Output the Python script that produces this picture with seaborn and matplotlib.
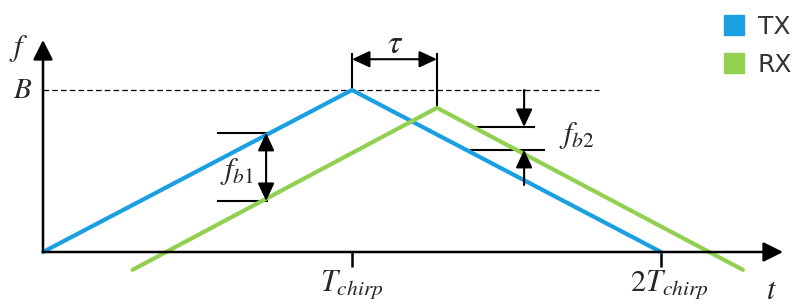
import numpy as np
import pandas as pd
import matplotlib
matplotlib.use('Agg')
import matplotlib.pyplot as plt
import seaborn as sb
from matplotlib.lines import Line2D

# chirp corner points (time in T_chirp units, frequency in B units)
t_tx = [0.0, 1.0, 2.0]
f_tx = [0.0, 1.0, 0.0]
t_rx = [0.29, 1.275, 2.265]
f_rx = [-0.11, 0.89, -0.11]
signals = ['TX', 'RX']
colors = ['#1a9fe3', '#92d050']

# beat frequency markers
fb1_x = 0.722
fb1_levels = [0.735, 0.315]
fb2_x = 1.557
fb2_levels = [0.772, 0.63]

sb.set_style('white')
plt.rcParams['mathtext.fontset'] = 'stix'
plt.rcParams['font.family'] = ['DejaVu Sans']

df = pd.DataFrame({'t': t_tx + t_rx, 'f': f_tx + f_rx,
                   'signal': [signals[0]] * len(t_tx) + [signals[1]] * len(t_rx)})

fig = plt.figure(figsize=(7.95, 3.06), dpi=100)
ax = fig.add_axes([0, 0, 1, 1])
ax.set_xlim(-43 / 309, 752 / 309)
ax.set_ylim(-54 / 162, 252 / 162)
ax.axis('off')

sb.lineplot(data=df, x='t', y='f', hue='signal', palette=dict(zip(signals, colors)),
            sort=False, lw=3, legend=False, ax=ax, zorder=3)

# axes with arrows
ax.annotate('', xy=(2.395, 0), xytext=(0, 0),
            arrowprops=dict(arrowstyle='-|>,head_length=0.6,head_width=0.3', lw=1.8,
                            color='black', shrinkA=0, shrinkB=0, mutation_scale=20))
ax.annotate('', xy=(0, 1.309), xytext=(0, 0),
            arrowprops=dict(arrowstyle='-|>,head_length=0.6,head_width=0.3', lw=1.8,
                            color='black', shrinkA=0, shrinkB=0, mutation_scale=20))
ax.vlines([1, 2], -0.09, 0, color='black', lw=1.8)

# B dashed level
ax.hlines(max(f_tx), 0, 1.80, color='black', lw=0.9, linestyles=(0, (4.5, 2.5)))

# tau
ax.vlines(t_tx[1], f_tx[1], 1.228, color='black', lw=1.5)
ax.vlines(t_rx[1], f_rx[1], 1.228, color='black', lw=1.5)
dbl = dict(arrowstyle='<|-|>,head_length=0.6,head_width=0.28', lw=1.5, color='black',
           shrinkA=0, shrinkB=0, mutation_scale=18)
ax.annotate('', xy=(t_tx[1], 1.19), xytext=(t_rx[1], 1.19), arrowprops=dbl)

# fb1
ax.hlines(fb1_levels, 0.563, 0.728, color='black', lw=1.5)
ax.annotate('', xy=(fb1_x, fb1_levels[0]), xytext=(fb1_x, fb1_levels[1]), arrowprops=dbl)

# fb2
sgl = dict(arrowstyle='-|>,head_length=0.6,head_width=0.28', lw=1.5, color='black',
           shrinkA=0, shrinkB=0, mutation_scale=18)
ax.hlines(fb2_levels[0], 1.382, 1.592, color='black', lw=1.5)
ax.hlines(fb2_levels[1], 1.382, 1.625, color='black', lw=1.5)
ax.annotate('', xy=(fb2_x, fb2_levels[0]), xytext=(fb2_x, 1.0), arrowprops=sgl)
ax.annotate('', xy=(fb2_x, fb2_levels[1]), xytext=(fb2_x, 0.414), arrowprops=sgl)

# labels
fs = 22
ax.text(-0.078, 1.259, r'$f$', fontsize=fs, ha='center', va='center')
ax.text(-0.065, 1.0, r'$B$', fontsize=fs - 1, ha='center', va='center')
ax.text(1.0, -0.241, r'$T_{chirp}$', fontsize=fs, ha='center', va='baseline')
ax.text(2.026, -0.241, r'$2T_{chirp}$', fontsize=fs, ha='center', va='baseline')
ax.text(2.359, -0.235, r'$t$', fontsize=fs, ha='center', va='center')
ax.text(1.139, 1.29, r'$\tau$', fontsize=24, ha='center', va='center')
ax.text(0.627, 0.494, r'$f_{b1}$', fontsize=fs, ha='center', va='center')
ax.text(1.728, 0.722, r'$f_{b2}$', fontsize=fs, ha='center', va='center')

# legend
handles = [Line2D([], [], ls='none', marker='s', markersize=14, color=c) for c in colors]
ax.legend(handles, signals, loc='upper left', bbox_to_anchor=(721 / 795, 1 - 15 / 306),
          bbox_transform=fig.transFigure, frameon=False, fontsize=18, handlelength=1,
          handletextpad=0.48, borderpad=0, borderaxespad=0, labelspacing=0.55,
          labelcolor='#333333')

plt.savefig('out.png', dpi=100)
